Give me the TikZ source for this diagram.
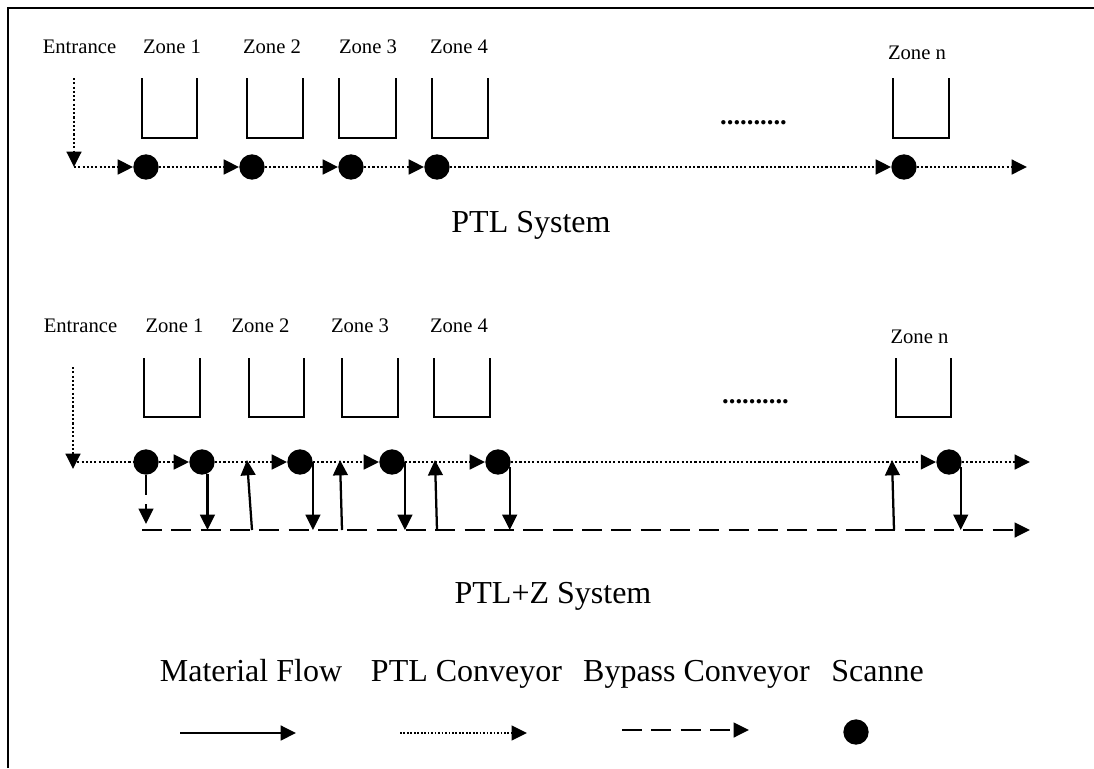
\documentclass[tikz,border=0pt]{standalone}
\usepackage{fontspec}
\setmainfont{Liberation Serif}
\usetikzlibrary{arrows.meta}
\begin{document}
\begin{tikzpicture}[x=0.75pt,y=-0.75pt,
  lbl/.style={anchor=base,inner sep=0pt,font=\fontsize{15.5}{18}\selectfont},
  title/.style={anchor=base,inner sep=0pt,font=\fontsize{24}{28}\selectfont},
  etc/.style={anchor=base,inner sep=0pt,font=\fontsize{20}{20}\selectfont\bfseries},
  scanner/.style={circle,fill=black,draw=none,inner sep=0pt,minimum size=19pt},
  zonebox/.style={line width=1.5pt},
  tip/.style={-{Triangle[length=11.5pt,width=11pt]}},
  ptl/.style={line width=1.8pt,dash pattern=on 1.6pt off 1.6pt},
  bypass/.style={line width=1.7pt,dash pattern=on 15pt off 7pt},
  flow/.style={line width=1.7pt},
  frame/.style={line width=2pt}
]
\useasboundingbox (0,0) rectangle (1094,768);

% outer frame (left and top edges)
\draw[frame] (8,768) -- (8,8) -- (1094,8);

% ---------------- PTL system ----------------
\node[lbl] (entA) at (79.5,53) {Entrance};
\node[lbl] (zA1) at (172,53) {Zone 1};
\node[lbl] (zA2) at (272,53) {Zone 2};
\node[lbl] (zA3) at (368,53) {Zone 3};
\node[lbl] (zA4) at (459,53) {Zone 4};
\node[lbl] (zAn) at (917,59) {Zone n};

\foreach \l/\r in {142/197,247/303,339/396,432/488,893/949}
  \draw[zonebox] (\l,78) -- (\l,138) -- (\r,138) -- (\r,78);

\node[etc] (dotsA) at (753.5,124.5) {..........};

\node[scanner] (t1) at (146,167) {};
\node[scanner] (t2) at (252,167) {};
\node[scanner] (t3) at (351,167) {};
\node[scanner] (t4) at (437,167) {};
\node[scanner] (tn) at (904,167) {};

\coordinate (inA) at (74,78);
\coordinate (turnA) at (74,167);
\coordinate (outA) at (1027,167);

\draw[ptl,tip] (inA) -- (turnA);
\draw[ptl,tip] (turnA) -- (t1.west);
\draw[ptl,tip] (t1.east) -- (t2.west);
\draw[ptl,tip] (t2.east) -- (t3.west);
\draw[ptl,tip] (t3.east) -- (t4.west);
\draw[ptl,tip] (t4.east) -- (tn.west);
\draw[ptl,tip] (tn.east) -- (outA);

\node[title] (titleA) at (531,232) {PTL System};

% ---------------- PTL+Z system ----------------
\node[lbl] (entB) at (80.5,332) {Entrance};
\node[lbl] (zB1) at (174.5,332) {Zone 1};
\node[lbl] (zB2) at (260.5,332) {Zone 2};
\node[lbl] (zB3) at (360,332) {Zone 3};
\node[lbl] (zB4) at (459,332) {Zone 4};
\node[lbl] (zBn) at (919.5,343) {Zone n};

\foreach \l/\r in {144/200,249/304,342/398,434/490,896/951}
  \draw[zonebox] (\l,358) -- (\l,417) -- (\r,417) -- (\r,358);

\node[etc] (dotsB) at (755.5,403.5) {..........};

\node[scanner] (sA) at (146,462) {};
\node[scanner] (sB) at (202,462) {};
\node[scanner] (sC) at (300,462) {};
\node[scanner] (sD) at (392,462) {};
\node[scanner] (sE) at (498,462) {};
\node[scanner] (sN) at (949,462) {};

\coordinate (inB) at (73,367);
\coordinate (dropB) at (73,469);
\coordinate (turnB) at (73,462);
\coordinate (outB) at (1030,462);
\coordinate (busS) at (142,530);
\coordinate (busE) at (1030,530);
\coordinate (byA) at (146,524);

% PTL conveyor
\draw[ptl,tip] (inB) -- (dropB);
\draw[ptl] (turnB) -- (sA.west);
\draw[ptl,tip] (sA.east) -- (sB.west);
\draw[ptl,tip] (sB.east) -- (sC.west);
\draw[ptl,tip] (sC.east) -- (sD.west);
\draw[ptl,tip] (sD.east) -- (sE.west);
\draw[ptl,tip] (sE.east) -- (sN.west);
\draw[ptl,tip] (sN.east) -- (outB);

% bypass conveyor
\draw[bypass,tip] (busS) -- (busE);
\draw[bypass,tip] (sA.south) -- (byA);

% material flow down to the bypass
\draw[flow,tip] (sB.-65) -- (sB.-65 |- busS);
\draw[flow,tip] (sC.east) -- (sC.east |- busS);
\draw[flow,tip] (sD.east) -- (sD.east |- busS);
\draw[flow,tip] (sE.-25) -- (sE.-25 |- busS);
\draw[flow,tip] (sN.-25) -- (sN.-25 |- busS);

% material flow back up to the PTL line
\coordinate (ub1) at (252,530); \coordinate (ut1) at (247,460);
\coordinate (ub2) at (342,530); \coordinate (ut2) at (340,460);
\coordinate (ub3) at (437,530); \coordinate (ut3) at (435,460);
\coordinate (ub4) at (894,530); \coordinate (ut4) at (892,460);
\draw[flow,tip] (ub1) -- (ut1);
\draw[flow,tip] (ub2) -- (ut2);
\draw[flow,tip] (ub3) -- (ut3);
\draw[flow,tip] (ub4) -- (ut4);

\node[title] (titleB) at (553,603) {PTL+Z System};

% ---------------- legend ----------------
\node[title] (kFlow) at (251,681) {Material Flow};
\node[title] (kPtl) at (466.5,681) {PTL Conveyor};
\node[title] (kBy) at (696.5,681) {Bypass Conveyor};
\node[title] (kSc) at (877.5,681) {Scanne};

\coordinate (f0) at (180,733); \coordinate (f1) at (296,733);
\coordinate (p0) at (400,733); \coordinate (p1) at (527,733);
\coordinate (b0) at (622,730); \coordinate (b1) at (749,730);
\draw[flow,line width=1.9pt,tip] (f0) -- (f1);
\draw[ptl,line width=1.3pt,dash pattern=on 1.3pt off 1.3pt,tip] (p0) -- (p1);
\draw[bypass,tip] (b0) -- (b1);
\node[scanner] (kDot) at (856,732) {};
\end{tikzpicture}
\end{document}
